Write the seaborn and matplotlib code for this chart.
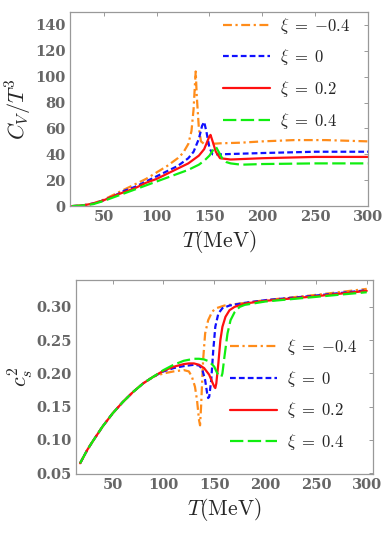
import pandas as pd
import numpy as np
import matplotlib
matplotlib.use('Agg')
import matplotlib.pyplot as plt
import seaborn as sns

sns.set_style('white')
plt.rcParams['mathtext.fontset'] = 'cm'
plt.rcParams['font.family'] = ['DejaVu Serif']

labels = [r'$\xi\;=\;{-}0.4$', r'$\xi\;=\;0$', r'$\xi\;=\;0.2$', r'$\xi\;=\;0.4$']
colors = ['#FF8C1A', '#1010FF', '#FF1010', '#10EE10']
dashes = [(4, 1.6, 1, 1.6), (2.6, 1.4), (), (6, 2)]

# C_V / T^3 vs T
T_cv_m04 = [20, 30, 40, 50, 60, 70, 80, 90, 100, 110, 120, 125, 130, 133, 135, 136, 137, 138, 140, 142, 145, 150, 160, 180, 200, 230, 260, 300]
cv_m04 = [0, 0.5, 2, 5, 9, 13, 17, 21, 26, 31, 37, 41, 48, 58, 75, 90, 104, 85, 60, 50, 48, 48, 48.5, 49, 50, 51, 51, 50]
T_cv_0 = [20, 30, 40, 50, 60, 70, 80, 90, 100, 110, 120, 130, 135, 140, 143, 145, 147, 150, 153, 160, 200, 250, 300]
cv_0 = [0, 0.5, 2, 4.5, 8, 12, 15, 19, 23, 27, 31, 37, 42, 52, 62, 65, 58, 45, 40, 40, 41, 42, 42]
T_cv_02 = [20, 30, 40, 50, 60, 70, 80, 90, 100, 110, 120, 130, 140, 145, 148, 150, 151, 153, 156, 160, 170, 200, 250, 300]
cv_02 = [0, 0.5, 2, 4.5, 8, 11, 14, 18, 21, 25, 29, 33, 39, 44, 50, 54, 55, 50, 42, 37, 36, 37, 38, 38]
T_cv_04 = [20, 30, 40, 50, 60, 70, 80, 90, 100, 110, 120, 130, 140, 145, 150, 154, 156, 158, 162, 166, 170, 180, 200, 250, 300]
cv_04 = [0, 0.5, 1.5, 4, 7, 10, 13, 16, 19, 22, 25, 28, 32, 35, 39, 44, 46, 43, 37, 34, 33, 32, 32.5, 33, 33]

# c_s^2 vs T
T_low = [18, 25, 30, 40, 50, 60, 70, 80, 90]
cs_low = [0.065, 0.085, 0.097, 0.12, 0.14, 0.157, 0.172, 0.185, 0.195]
T_cs_m04 = [100, 110, 120, 125, 128, 131, 133, 135, 136, 137, 139, 141, 144, 148, 152, 160, 180, 200, 250, 300]
cs_m04 = [0.2, 0.203, 0.205, 0.203, 0.195, 0.18, 0.16, 0.13, 0.122, 0.15, 0.22, 0.26, 0.28, 0.293, 0.298, 0.302, 0.306, 0.31, 0.318, 0.327]
T_cs_0 = [100, 110, 120, 130, 135, 138, 141, 143, 144, 145, 147, 149, 151, 154, 158, 165, 180, 200, 250, 300]
cs_0 = [0.203, 0.208, 0.211, 0.213, 0.212, 0.207, 0.19, 0.17, 0.163, 0.165, 0.19, 0.235, 0.27, 0.29, 0.298, 0.302, 0.306, 0.31, 0.317, 0.325]
T_cs_02 = [100, 110, 120, 125, 130, 135, 140, 145, 148, 150, 151, 152, 154, 156, 158, 161, 165, 170, 180, 200, 250, 300]
cs_02 = [0.204, 0.21, 0.214, 0.215, 0.215, 0.213, 0.208, 0.198, 0.187, 0.18, 0.178, 0.185, 0.215, 0.25, 0.27, 0.285, 0.295, 0.3, 0.305, 0.309, 0.316, 0.324]
T_cs_04 = [100, 110, 120, 130, 135, 140, 145, 150, 153, 155, 157, 158, 160, 163, 166, 170, 175, 180, 200, 250, 300]
cs_04 = [0.205, 0.213, 0.219, 0.222, 0.222, 0.221, 0.218, 0.21, 0.2, 0.196, 0.195, 0.2, 0.225, 0.26, 0.28, 0.292, 0.3, 0.303, 0.308, 0.315, 0.322]

cv_sets = [(T_cv_m04, cv_m04), (T_cv_0, cv_0), (T_cv_02, cv_02), (T_cv_04, cv_04)]
cs_sets = [(T_low + T_cs_m04, cs_low + cs_m04), (T_low + T_cs_0, cs_low + cs_0),
           (T_low + T_cs_02, cs_low + cs_02), (T_low + T_cs_04, cs_low + cs_04)]

fig = plt.figure(figsize=(3.9, 5.41), dpi=100)
ax1 = fig.add_axes([0.179, 0.619, 0.765, 0.359])
ax2 = fig.add_axes([0.195, 0.124, 0.761, 0.358])

for ax, sets in [(ax1, cv_sets), (ax2, cs_sets)]:
    for (t, v), lab, c, d in zip(sets, labels, colors, dashes):
        df = pd.DataFrame({'T': t, 'v': v})
        sns.lineplot(data=df, x='T', y='v', ax=ax, color=c, lw=1.6,
                     estimator=None, sort=False, label=lab)
        if d:
            ax.lines[-1].set_dashes(d)

ax1.set_xlim(18, 300)
ax1.set_ylim(0, 150)
ax1.set_yticks(range(0, 141, 20))
ax1.set_xticks([50, 100, 150, 200, 250, 300])
ax1.set_ylabel(r'$C_V/T^3$', fontsize=16, labelpad=1)
ax1.set_xlabel(r'$T(\mathrm{MeV})$', fontsize=15.5, labelpad=3)

ax2.set_xlim(14, 306)
ax2.set_ylim(0.049, 0.34)
ax2.set_yticks([0.05, 0.10, 0.15, 0.20, 0.25, 0.30])
ax2.set_yticklabels(['0.05', '0.10', '0.15', '0.20', '0.25', '0.30'])
ax2.set_xticks([50, 100, 150, 200, 250, 300])
ax2.set_ylabel(r'$c_s^2$', fontsize=16, labelpad=1)
ax2.set_xlabel(r'$T(\mathrm{MeV})$', fontsize=15.5, labelpad=3)

for ax in (ax1, ax2):
    for s in ax.spines.values():
        s.set_color('#999999')
        s.set_linewidth(0.9)
    ax.tick_params(direction='in', length=3, width=0.7, color='#999999',
                   top=True, right=True, labelsize=10.5, labelcolor='#666666', pad=3)
    for lbl in ax.get_xticklabels() + ax.get_yticklabels():
        lbl.set_fontweight('bold')

ax1.legend(loc='upper left', bbox_to_anchor=(0.47, 1.05), frameon=False, fontsize=12,
           handlelength=2.8, labelspacing=0.7, handletextpad=0.6, borderpad=0.3)
ax2.legend(loc='upper left', bbox_to_anchor=(0.475, 0.775), frameon=False, fontsize=12,
           handlelength=2.8, labelspacing=0.7, handletextpad=0.6, borderpad=0.3)

fig.savefig('out.png', dpi=100)
